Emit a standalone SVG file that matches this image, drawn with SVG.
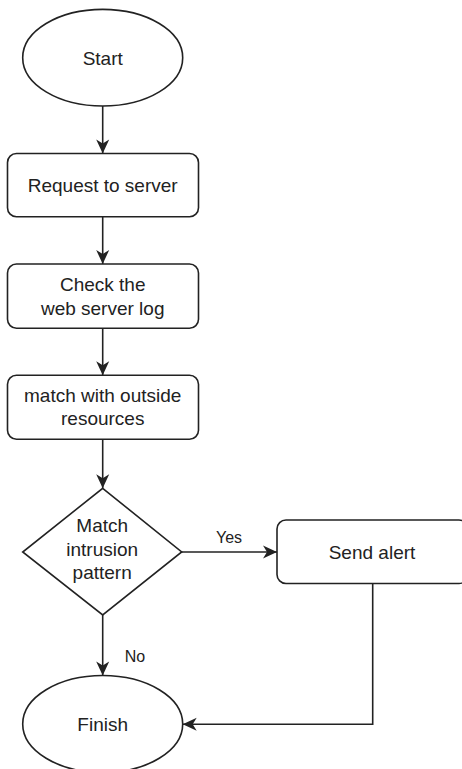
<svg xmlns="http://www.w3.org/2000/svg" width="462" height="769" viewBox="0 0 462 769">
<defs>
<style>
.shape{fill:#fff;stroke:#222;stroke-width:1.6}
.conn{fill:none;stroke:#222;stroke-width:1.6}
text{font-family:"Liberation Sans",Arial,sans-serif;font-size:19px;fill:#222;text-anchor:middle;dominant-baseline:central}
.lbl{font-size:16px}
</style>
<marker id="arr" viewBox="0 0 16 14" refX="15" refY="7" markerWidth="16" markerHeight="14" markerUnits="userSpaceOnUse" orient="auto">
<path d="M15,7 L1,0.5 L5,7 L1,13.5 Z" fill="#222"/>
</marker>
</defs>
<rect width="462" height="769" fill="#fff"/>
<g id="connectors">
<line class="conn" x1="102.7" y1="106" x2="102.7" y2="153.5" marker-end="url(#arr)"/>
<line class="conn" x1="102.7" y1="216.7" x2="102.7" y2="264" marker-end="url(#arr)"/>
<line class="conn" x1="102.7" y1="328.3" x2="102.7" y2="375.3" marker-end="url(#arr)"/>
<line class="conn" x1="102.7" y1="439.3" x2="102.7" y2="488.3" marker-end="url(#arr)"/>
<line class="conn" x1="181.7" y1="552" x2="277" y2="552" marker-end="url(#arr)"/>
<line class="conn" x1="102.7" y1="615" x2="102.7" y2="675.5" marker-end="url(#arr)"/>
<polyline class="conn" points="372.7,583.5 372.7,724.3 182.7,724.3" marker-end="url(#arr)"/>
<text class="lbl" x="229" y="537">Yes</text>
<text class="lbl" x="135" y="656.5">No</text>
</g>
<g id="start">
<ellipse class="shape" cx="102.7" cy="57.7" rx="80" ry="48.3"/>
<text x="102.7" y="58">Start</text>
</g>
<g id="request">
<rect class="shape" x="7.5" y="153.5" width="191" height="63.2" rx="9"/>
<text x="102.7" y="185.5">Request to server</text>
</g>
<g id="check">
<rect class="shape" x="7.5" y="264" width="191" height="64.3" rx="9"/>
<text x="102.7" y="284">Check the</text>
<text x="102.7" y="308.5">web server log</text>
</g>
<g id="match">
<rect class="shape" x="7.5" y="375.3" width="191" height="64" rx="9"/>
<text x="102.7" y="395.5">match with outside</text>
<text x="102.7" y="418.5">resources</text>
</g>
<g id="decision">
<polygon class="shape" points="102.7,488.3 181.7,552 102.7,615 22.7,552"/>
<text x="102.2" y="525">Match</text>
<text x="102.2" y="549.5">intrusion</text>
<text x="102.2" y="572">pattern</text>
</g>
<g id="alert">
<rect class="shape" x="277" y="520" width="191" height="63.5" rx="9"/>
<text x="372" y="552.5">Send alert</text>
</g>
<g id="finish">
<ellipse class="shape" cx="102.7" cy="724" rx="80" ry="48.5"/>
<text x="102.7" y="724.5">Finish</text>
</g>
</svg>
